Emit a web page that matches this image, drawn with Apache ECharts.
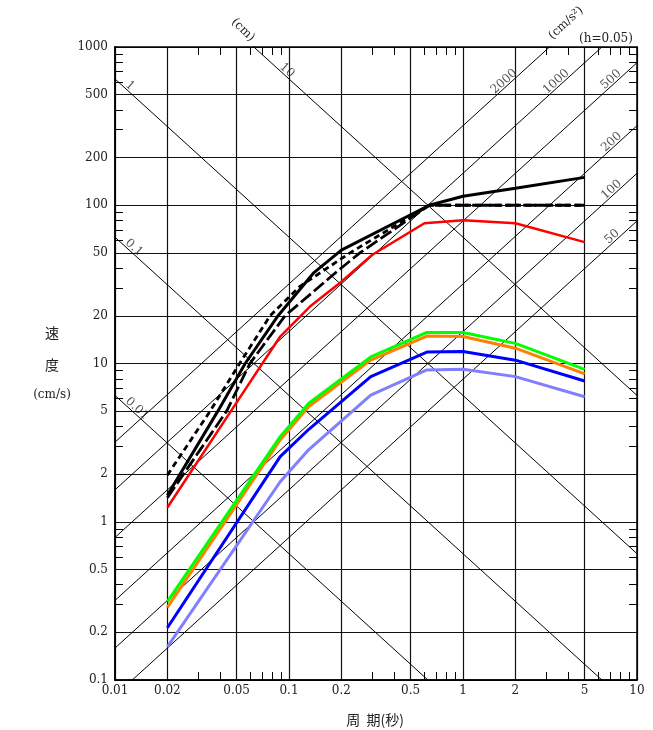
<!DOCTYPE html>
<html>
<head>
<meta charset="utf-8">
<script src="https://cdn.jsdelivr.net/npm/echarts@6/dist/echarts.min.js"></script>
<style>
  body { margin: 0; background: #fff; }
  #chart { width: 653px; height: 730px; }
</style>
</head>
<body>
<div id="chart"></div>
<script>
// 周期 (s) / 速度 (cm/s) ticks
var periodLabels = [0.01, 0.02, 0.05, 0.1, 0.2, 0.5, 1, 2, 5, 10];
var velocityLabels = [0.1, 0.2, 0.5, 1, 2, 5, 10, 20, 50, 100, 200, 500, 1000];
var minorSteps = [3, 4, 6, 7, 8, 9];
var periodDecades = [0.01, 0.1, 1];
var velocityDecades = [0.1, 1, 10, 100];

// tripartite lines
var dispLines = [0.01, 0.1, 1, 10];              // cm
var accLines = [50, 100, 200, 500, 1000, 2000];   // cm/s2

// spectra
var blackT = [0.02, 0.039, 0.056, 0.087, 0.138, 0.2, 0.64, 1, 2, 5];
var blackV = [1.47, 5, 10, 20.2, 37.2, 52, 100, 114, 128, 150];
var dashT = [0.02, 0.0352, 0.052, 0.0778, 0.115, 0.224, 0.64, 5];
var dashV = [1.97, 5, 10, 20, 30.6, 50, 100, 100];
var longDashT = [0.02, 0.0438, 0.0596, 0.0948, 0.188, 0.2555, 0.64, 5];
var longDashV = [1.42, 5, 10, 20, 38, 50, 100, 100];
var redT = [0.02, 0.048, 0.089, 0.132, 0.2, 0.3, 0.6, 1, 2, 5];
var redV = [1.23, 5.3, 14.8, 22.9, 32.9, 48.5, 77, 80.5, 77, 58.5];
var colorT = [0.02, 0.089, 0.13, 0.295, 0.62, 1, 2, 5];
var greenV = [0.313, 3.45, 5.61, 11.0, 15.7, 15.7, 13.4, 9.19];
var orangeV = [0.288, 3.29, 5.35, 10.5, 14.9, 14.8, 12.5, 8.59];
var blueV = [0.214, 2.58, 3.84, 8.26, 11.8, 11.9, 10.5, 7.75];
var lightBlueV = [0.162, 1.79, 2.86, 6.32, 9.1, 9.2, 8.26, 6.17];

var TWO_PI = 2 * Math.PI;
var SERIF = 'DejaVu Serif';
var CJK = 'Noto Sans CJK JP';

function minors(decades) {
  var out = [];
  decades.forEach(function (d) {
    minorSteps.forEach(function (s) { out.push(+(d * s).toPrecision(6)); });
  });
  return out;
}

function pairs(ts, vs) {
  return ts.map(function (t, i) { return [t, vs[i]]; });
}

function fmt(v) {
  return String(+(+v).toPrecision(6));
}

var series = [];

// displacement lines (slope -1)
dispLines.forEach(function (d) {
  series.push({
    type: 'line', silent: true, symbol: 'none', z: 1,
    data: [[0.01, TWO_PI * d / 0.01], [10, TWO_PI * d / 10]],
    lineStyle: {color: '#000', width: 1}
  });
});
// acceleration lines (slope +1)
accLines.forEach(function (a) {
  series.push({
    type: 'line', silent: true, symbol: 'none', z: 1,
    data: [[0.01, a * 0.01 / TWO_PI], [10, a * 10 / TWO_PI]],
    lineStyle: {color: '#000', width: 1}
  });
});

// labels sitting on the diagonal lines
var dispLabelT = {0.01: 0.0122, 0.1: 0.0117, 1: 0.0111, 10: 0.0887};
var accLabelT = {50: 7.9, 100: 7.84, 200: 7.84, 500: 7.78, 1000: 3.77, 2000: 1.89};
var labelData = [];
dispLines.forEach(function (d) {
  var t = dispLabelT[d];
  labelData.push({name: fmt(d), value: [t, TWO_PI * d / t],
    label: {rotate: -42, offset: [5, -5]}});
});
accLines.forEach(function (a) {
  var t = accLabelT[a];
  labelData.push({name: fmt(a), value: [t, a * t / TWO_PI],
    label: {rotate: 42, offset: [-5, -5]}});
});
series.push({
  type: 'scatter', silent: true, symbolSize: 0, z: 2,
  data: labelData,
  label: {show: true, position: 'inside', formatter: '{b}',
    color: '#222', fontFamily: SERIF, fontSize: 12}
});

function spectrum(ts, vs, color, width, type) {
  return {
    type: 'line', symbol: 'none', z: 3,
    data: pairs(ts, vs),
    lineStyle: {color: color, width: width, type: type || 'solid'}
  };
}
series.push(spectrum(colorT, lightBlueV, '#8080ff', 3));
series.push(spectrum(colorT, blueV, '#0000ff', 3));
series.push(spectrum(colorT, orangeV, '#ff8000', 3));
series.push(spectrum(colorT, greenV, '#00ff00', 3));
series.push(spectrum(redT, redV, '#ff0000', 2.5));
series.push(spectrum(longDashT, longDashV, '#000', 2.8, [13, 4]));
series.push(spectrum(dashT, dashV, '#000', 2.8, [6, 4]));
series.push(spectrum(blackT, blackV, '#000', 3));

function minorAxis(pos, isX) {
  return {
    type: 'log', logBase: 10, position: pos,
    min: isX ? 0.01 : 0.1, max: isX ? 10 : 1000,
    axisLine: {show: true, lineStyle: {color: '#000', width: 1.5}},
    axisLabel: {show: false},
    splitLine: {show: false},
    axisTick: {show: true, inside: true, length: 8,
      customValues: isX ? minors(periodDecades) : minors(velocityDecades),
      lineStyle: {color: '#000', width: 1}}
  };
}

var option = {
  animation: false,
  backgroundColor: '#fff',
  grid: {left: 115, right: 16, top: 47, bottom: 50},
  xAxis: [{
    type: 'log', logBase: 10, min: 0.01, max: 10, position: 'bottom',
    axisLine: {show: true, lineStyle: {color: '#000', width: 1.5}},
    axisTick: {show: false, customValues: periodLabels},
    axisLabel: {customValues: periodLabels, formatter: fmt, margin: 5,
      color: '#222', fontFamily: SERIF, fontSize: 12},
    splitLine: {show: true, lineStyle: {color: '#111', width: 1.2}}
  }, minorAxis('bottom', true), minorAxis('top', true)],
  yAxis: [{
    type: 'log', logBase: 10, min: 0.1, max: 1000, position: 'left',
    axisLine: {show: true, lineStyle: {color: '#000', width: 1.5}},
    axisTick: {show: false, customValues: velocityLabels},
    axisLabel: {customValues: velocityLabels, formatter: fmt, margin: 7,
      color: '#222', fontFamily: SERIF, fontSize: 12},
    splitLine: {show: true, lineStyle: {color: '#111', width: 1.2}}
  }, minorAxis('left', false), minorAxis('right', false)],
  graphic: [
    {type: 'text', x: 52, y: 333, style: {text: '速', font: '14px "' + CJK + '"', fill: '#222', align: 'center', verticalAlign: 'middle'}},
    {type: 'text', x: 52, y: 365, style: {text: '度', font: '14px "' + CJK + '"', fill: '#222', align: 'center', verticalAlign: 'middle'}},
    {type: 'text', x: 52, y: 395, style: {text: '(cm/s)', font: '12px "' + SERIF + '"', fill: '#222', align: 'center', verticalAlign: 'middle'}},
    {type: 'text', x: 375, y: 720, style: {text: '周  期(秒)', font: '14px "' + CJK + '"', fill: '#222', align: 'center', verticalAlign: 'middle'}},
    {type: 'text', x: 243, y: 30, rotation: -0.78, style: {text: '(cm)', font: '12px "' + SERIF + '"', fill: '#222', align: 'center', verticalAlign: 'middle'}},
    {type: 'text', x: 566, y: 23, rotation: 0.74, style: {text: '(cm/s²)', font: '12px "' + SERIF + '"', fill: '#222', align: 'center', verticalAlign: 'middle'}},
    {type: 'text', x: 606, y: 39, style: {text: '(h=0.05)', font: '12px "' + SERIF + '"', fill: '#222', align: 'center', verticalAlign: 'middle'}}
  ],
  series: series
};

var myChart = echarts.init(document.getElementById('chart'));
myChart.setOption(option);
</script>
</body>
</html>
